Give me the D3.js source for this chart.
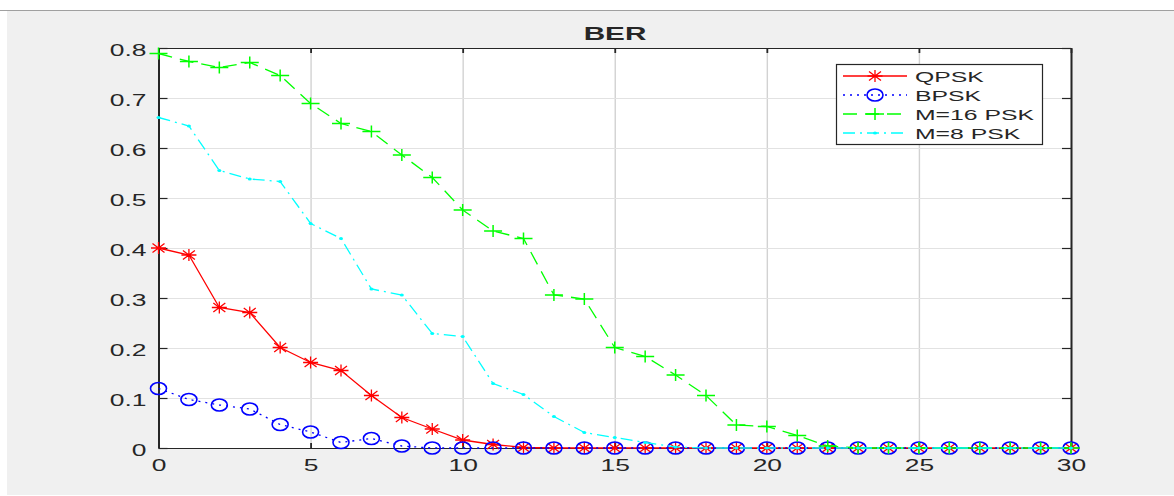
<!doctype html>
<html>
<head>
    <meta charset="utf-8">
    <title>BER</title>
    <script src="https://d3js.org/d3.v7.min.js"></script>
    <style>
        body { margin: 0; background: #fff; }
        svg text { font-family: "Liberation Sans", Arial, sans-serif; fill: #262626; }
    </style>
</head>
<body>
<svg width="1174" height="496"></svg>
<script>
    // values
    let snr = [0, 1, 2, 3, 4, 5, 6, 7, 8, 9, 10, 11, 12, 13, 14, 15, 16, 17, 18, 19, 20,
               21, 22, 23, 24, 25, 26, 27, 28, 29, 30];
    let qpsk = [0.400, 0.386, 0.281, 0.271, 0.201, 0.171, 0.155, 0.105, 0.061, 0.038, 0.016,
                0.007, 0.001, 0, 0, 0, 0, 0, 0, 0, 0, 0, 0, 0, 0, 0, 0, 0, 0, 0, 0];
    let bpsk = [0.119, 0.097, 0.086, 0.078, 0.047, 0.032, 0.011, 0.019, 0.004, 0, 0,
                0, 0, 0, 0, 0, 0, 0, 0, 0, 0, 0, 0, 0, 0, 0, 0, 0, 0, 0, 0];
    let psk16 = [0.789, 0.773, 0.761, 0.771, 0.745, 0.689, 0.649, 0.633, 0.586, 0.541, 0.476,
                 0.434, 0.419, 0.306, 0.298, 0.201, 0.183, 0.146, 0.105, 0.046, 0.043,
                 0.025, 0.004, 0, 0, 0, 0, 0, 0, 0, 0];
    let psk8 = [0.661, 0.644, 0.555, 0.538, 0.533, 0.449, 0.419, 0.318, 0.306, 0.229, 0.223,
                0.129, 0.107, 0.063, 0.031, 0.021, 0.011, 0.002, 0, 0, 0,
                0, 0, 0, 0, 0, 0, 0, 0, 0, 0];
    let xTicks = [0, 5, 10, 15, 20, 25, 30];
    let yTicks = [0, 0.1, 0.2, 0.3, 0.4, 0.5, 0.6, 0.7, 0.8];
    let seriesNames = ["QPSK", "BPSK", "M=16 PSK", "M=8 PSK"];

    let series = [
        {name: seriesNames[0], values: qpsk, color: "#ff0000", dash: null, marker: "star"},
        {name: seriesNames[1], values: bpsk, color: "#0000ff", dash: "2,5", marker: "circle"},
        {name: seriesNames[2], values: psk16, color: "#00ff00", dash: "14,8", marker: "plus"},
        {name: seriesNames[3], values: psk8, color: "#00ffff", dash: "12,5,2,5", marker: "dot"}
    ];

    let svg = d3.select("svg");
    let stretch = 1.65;   // text in the picture is stretched sideways

    // figure background
    svg.append("rect").attr("x", 7).attr("y", 10).attr("width", 1167).attr("height", 485)
        .attr("fill", "#f0f0f0");
    svg.append("line").attr("x1", 0).attr("x2", 1174).attr("y1", 10.5).attr("y2", 10.5)
        .attr("stroke", "#a0a0a0");

    let pLeft = 158.5, pRight = 1071, pTop = 48, pBottom = 448;
    let width = pRight - pLeft, height = pBottom - pTop;

    let x = d3.scaleLinear().domain([0, 30]).range([pLeft, pRight]);
    let y = d3.scaleLinear().domain([0, 0.8]).range([pBottom, pTop]);

    svg.append("rect").attr("x", pLeft).attr("y", pTop).attr("width", width).attr("height", height)
        .attr("fill", "#fff");

    // grid
    let gx = svg.append("g").attr("transform", "translate(0," + pBottom + ")")
        .call(d3.axisBottom(x).tickValues(xTicks).tickSize(-height).tickFormat(""));
    gx.select(".domain").remove();
    gx.selectAll("line").attr("stroke", "#d2d2d2").attr("stroke-width", 1.4);

    let gy = svg.append("g").attr("transform", "translate(" + pLeft + ",0)")
        .call(d3.axisLeft(y).tickValues(yTicks).tickSize(-width).tickFormat(""));
    gy.select(".domain").remove();
    gy.selectAll("line").attr("stroke", "#e2e2e2").attr("stroke-width", 1);

    // axes with inward ticks
    let axisColor = "#262626";
    let bAxis = svg.append("g").attr("transform", "translate(0," + pBottom + ")")
        .call(d3.axisBottom(x).tickValues(xTicks).tickSize(-5).tickSizeOuter(0).tickPadding(0));
    bAxis.selectAll("text")
        .attr("y", null).attr("dy", null)
        .attr("font-size", 16).attr("text-anchor", "middle")
        .attr("transform", "translate(0,23) scale(" + stretch + ",1)");

    let tAxis = svg.append("g").attr("transform", "translate(0," + pTop + ")")
        .call(d3.axisTop(x).tickValues(xTicks).tickSize(-5).tickSizeOuter(0).tickFormat(""));

    let lAxis = svg.append("g").attr("transform", "translate(" + pLeft + ",0)")
        .call(d3.axisLeft(y).tickValues(yTicks).tickSize(-9).tickSizeOuter(0)
            .tickFormat(d => d === 0 ? "0" : d3.format(".1f")(d)));
    lAxis.selectAll("text")
        .attr("x", null).attr("dy", null)
        .attr("font-size", 16).attr("text-anchor", "end")
        .attr("transform", "translate(-12,7) scale(" + stretch + ",1)");

    let rAxis = svg.append("g").attr("transform", "translate(" + pRight + ",0)")
        .call(d3.axisRight(y).tickValues(yTicks).tickSize(-9).tickSizeOuter(0).tickFormat(""));

    [bAxis, tAxis, lAxis, rAxis].forEach(g => {
        g.selectAll("line").attr("stroke", axisColor);
        g.select(".domain").attr("stroke", axisColor);
        g.selectAll("text").attr("fill", axisColor);
    });
    lAxis.select(".domain").attr("stroke-width", 2);
    rAxis.select(".domain").attr("stroke-width", 2);
    lAxis.selectAll(".tick line").attr("stroke-width", 1.2);
    rAxis.selectAll(".tick line").attr("stroke-width", 1.2);
    bAxis.selectAll(".tick line").attr("stroke-width", 1.8);
    tAxis.selectAll(".tick line").attr("stroke-width", 1.8);

    // title
    svg.append("text").text("BER")
        .attr("font-size", 18).attr("font-weight", "bold").attr("text-anchor", "middle")
        .attr("fill", "#000")
        .attr("transform", "translate(615,40) scale(" + stretch + ",1)");

    // marker painter
    function drawMarker(g, kind, color, cx, cy) {
        if (kind === "star") {
            let p = "M" + (cx - 7.5) + "," + cy + "H" + (cx + 7.5) +
                "M" + cx + "," + (cy - 6) + "V" + (cy + 6) +
                "M" + (cx - 6) + "," + (cy - 4.5) + "L" + (cx + 6) + "," + (cy + 4.5) +
                "M" + (cx - 6) + "," + (cy + 4.5) + "L" + (cx + 6) + "," + (cy - 4.5);
            g.append("path").attr("d", p).attr("stroke", color).attr("stroke-width", 1.3)
                .attr("fill", "none");
        } else if (kind === "circle") {
            g.append("ellipse").attr("cx", cx).attr("cy", cy).attr("rx", 8).attr("ry", 6)
                .attr("stroke", color).attr("stroke-width", 1.6).attr("fill", "none");
        } else if (kind === "plus") {
            let p = "M" + (cx - 9) + "," + cy + "H" + (cx + 9) +
                "M" + cx + "," + (cy - 6) + "V" + (cy + 6);
            g.append("path").attr("d", p).attr("stroke", color).attr("stroke-width", 1.5)
                .attr("fill", "none");
        } else {
            g.append("ellipse").attr("cx", cx).attr("cy", cy).attr("rx", 2).attr("ry", 1.5)
                .attr("fill", color);
        }
    }

    let line = d3.line().x((d, i) => x(snr[i])).y(d => y(d));

    series.forEach(s => {
        let g = svg.append("g");
        g.append("path").datum(s.values).attr("d", line)
            .attr("fill", "none").attr("stroke", s.color).attr("stroke-width", 1.3)
            .attr("stroke-dasharray", s.dash);
        s.values.forEach((v, i) => drawMarker(g, s.marker, s.color, x(snr[i]), y(v)));
    });

    // legend
    let lg = svg.append("g");
    lg.append("rect").attr("x", 836.5).attr("y", 64.5).attr("width", 206).attr("height", 80)
        .attr("fill", "#fff").attr("stroke", axisColor).attr("stroke-width", 1.2);
    series.forEach((s, i) => {
        let cy = 76 + i * 19;
        lg.append("line").attr("x1", 843).attr("x2", 907).attr("y1", cy).attr("y2", cy)
            .attr("stroke", s.color).attr("stroke-width", 1.3).attr("stroke-dasharray", s.dash);
        drawMarker(lg, s.marker, s.color, 875, cy);
        lg.append("text").text(s.name)
            .attr("font-size", 15)
            .attr("transform", "translate(915," + (cy + 5.5) + ") scale(" + stretch + ",1)");
    });
</script>
</body>
</html>
